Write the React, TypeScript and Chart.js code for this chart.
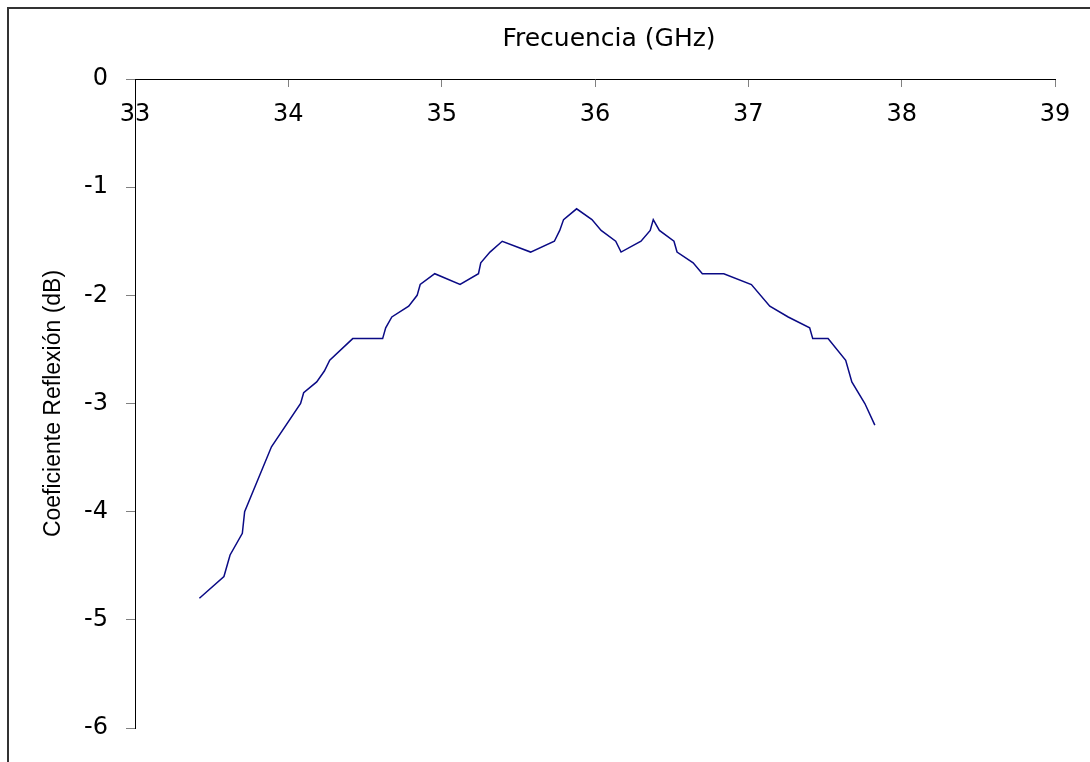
import React, { useEffect, useRef } from "react";
import { Chart, registerables } from "chart.js";

Chart.register(...registerables);

const freqGHz = [
  33.42, 33.58, 33.62, 33.7, 33.715, 33.89, 34.08, 34.1, 34.185, 34.235, 34.27,
  34.42, 34.615, 34.635, 34.675, 34.785, 34.84, 34.86, 34.955, 35.12, 35.24,
  35.255, 35.315, 35.395, 35.58, 35.735, 35.77, 35.795, 35.88, 35.98, 36.04,
  36.135, 36.17, 36.3, 36.36, 36.38, 36.42, 36.515, 36.535, 36.64, 36.7, 36.84,
  37.02, 37.14, 37.26, 37.4, 37.42, 37.52, 37.635, 37.675, 37.76, 37.825,
];
const reflexionDb = [
  -4.8, -4.6, -4.4, -4.2, -4.0, -3.4, -3.0, -2.9, -2.8, -2.7, -2.6, -2.4, -2.4,
  -2.3, -2.2, -2.1, -2.0, -1.9, -1.8, -1.9, -1.8, -1.7, -1.6, -1.5, -1.6, -1.5,
  -1.4, -1.3, -1.2, -1.3, -1.4, -1.5, -1.6, -1.5, -1.4, -1.3, -1.4, -1.5, -1.6,
  -1.7, -1.8, -1.8, -1.9, -2.1, -2.2, -2.3, -2.4, -2.4, -2.6, -2.8, -3.0, -3.2,
];
const xRange = [33, 39];
const yRange = [-6, 0];
const xTitle = "Frecuencia (GHz)";
const yTitle = "Coeficiente Reflexión (dB)";

const FONT = "'DejaVu Sans', sans-serif";

export default function App() {
  const ref = useRef<HTMLCanvasElement | null>(null);

  useEffect(() => {
    if (!ref.current) return;
    const points = freqGHz.map((f, i) => ({ x: f, y: reflexionDb[i] }));
    const chart = new Chart(ref.current, {
      type: "line",
      data: {
        datasets: [
          {
            data: points,
            borderColor: "#0a0a85",
            borderWidth: 1.5,
            pointRadius: 0,
            tension: 0,
            fill: false,
          },
        ],
      },
      options: {
        animation: false,
        responsive: false,
        devicePixelRatio: 1,
        layout: { padding: { left: 30, top: 0, right: 0, bottom: 34 } },
        plugins: {
          legend: { display: false },
          tooltip: { enabled: false },
          title: {
            display: true,
            text: xTitle,
            fullSize: true,
            color: "#000",
            font: { family: FONT, size: 25, weight: "normal" },
            padding: { top: 24, bottom: 25 },
          },
        },
        scales: {
          x: {
            type: "linear",
            position: { y: 0 } as any,
            min: xRange[0],
            max: xRange[1],
            ticks: {
              stepSize: 1,
              color: "#000",
              padding: 14,
              font: { family: FONT, size: 24 },
              callback: (v: any) => String(v),
            },
            grid: {
              drawOnChartArea: false,
              drawTicks: true,
              tickLength: 7,
              color: "#808080",
            },
            border: { display: true, color: "#000", width: 1 },
          },
          y: {
            type: "linear",
            position: "left",
            min: yRange[0],
            max: yRange[1],
            ticks: {
              stepSize: 1,
              color: "#000",
              padding: 18,
              font: { family: FONT, size: 24 },
              callback: (v: any) => String(v),
            },
            grid: {
              drawOnChartArea: false,
              drawTicks: true,
              tickLength: 9,
              color: "#808080",
            },
            border: { display: true, color: "#000", width: 1 },
            title: {
              display: true,
              text: yTitle,
              color: "#000",
              font: { family: "'Liberation Sans', Arial, sans-serif", size: 23 },
              padding: { top: 10, bottom: 0 },
            },
            afterFit: (s: any) => {
              s.width = 105;
            },
          },
          y2: {
            type: "linear",
            position: "right",
            display: true,
            grid: { display: false, drawTicks: false },
            border: { display: false },
            ticks: { display: false },
            afterFit: (s: any) => {
              s.width = 133;
            },
          },
        },
      },
    });
    return () => chart.destroy();
  }, []);

  return (
    <div
      style={{
        position: "fixed",
        left: 0,
        top: 0,
        width: 1090,
        height: 762,
        overflow: "hidden",
        background: "#fff",
      }}
    >
      <div
        style={{
          position: "absolute",
          left: 7,
          top: 7,
          width: 2000,
          height: 2000,
          borderLeft: "2px solid #333",
          borderTop: "2px solid #333",
        }}
      />
      <canvas
        ref={ref}
        width={1188}
        height={762}
        style={{ position: "absolute", left: 0, top: 0, width: 1188, height: 762 }}
      />
    </div>
  );
}
